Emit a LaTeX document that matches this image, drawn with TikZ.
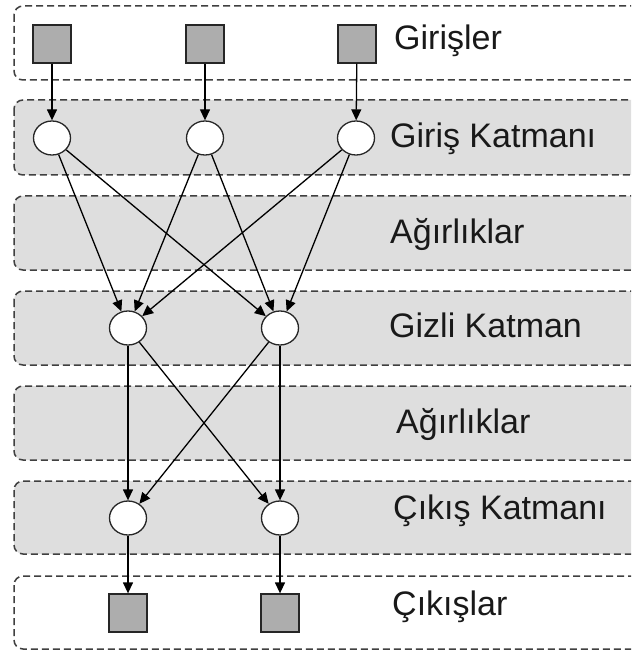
\documentclass[tikz,border=0pt]{standalone}
\usepackage{fontspec}
\setmainfont{Liberation Sans}
\usepackage{tikz}
\usetikzlibrary{shapes.geometric, arrows.meta, positioning}
\tikzstyle{arrow} = [line width=1.3pt,-{Triangle[length=11pt,width=10pt]}]

\begin{document}
\begin{tikzpicture}[
    x=1pt, y=-1pt,
    band/.style={draw=black!75, line width=1.5pt, dash pattern=on 7pt off 4pt, rounded corners=9pt, fill=black!13},
    openband/.style={band, fill=white},
    unit/.style={rectangle, draw=black!85, line width=1.3pt, fill=black!32, minimum size=38pt, inner sep=0pt},
    neuron/.style={ellipse, draw=black!85, line width=1.3pt, fill=white, minimum width=37pt, minimum height=34pt, inner sep=0pt},
    lbl/.style={anchor=base west, inner sep=0pt, font=\fontsize{34}{40}\selectfont, text=black!90}
]
    \useasboundingbox (0,0) rectangle (631,652);
    \clip (0,0) rectangle (631,652);
    \fill[white] (0,0) rectangle (631,652);

    % layer bands
    \draw[openband] (14,6) rectangle (680,80);
    \draw[band] (14,100) rectangle (680,175);
    \draw[band] (14,196) rectangle (680,270);
    \draw[band] (14,291) rectangle (680,365);
    \draw[band] (14,386) rectangle (680,460);
    \draw[band] (14,481) rectangle (680,554);
    \draw[openband] (14,576) rectangle (680,649);

    % labels
    \node[lbl] (tin) at (394,50) {Girişler};
    \node[lbl] (til) at (390,148) {Giriş Katmanı};
    \node[lbl] (tw1) at (390,243) {Ağırlıklar};
    \node[lbl] (thl) at (389,337) {Gizli Katman};
    \node[lbl] (tw2) at (396,433) {Ağırlıklar};
    \node[lbl] (tol) at (393,519) {Çıkış Katmanı};
    \node[lbl] (tout) at (392,615) {Çıkışlar};

    % nodes
    \node[unit] (in1) at (52,44) {};
    \node[unit] (in2) at (205,44) {};
    \node[unit] (in3) at (357,44) {};
    \node[neuron] (il1) at (52,138) {};
    \node[neuron] (il2) at (205,138) {};
    \node[neuron] (il3) at (356,138) {};
    \node[neuron] (hl1) at (128,328) {};
    \node[neuron] (hl2) at (280,328) {};
    \node[neuron] (ol1) at (128,518) {};
    \node[neuron] (ol2) at (280,518) {};
    \node[unit] (out1) at (128,613) {};
    \node[unit] (out2) at (280,613) {};

    % connections
    \draw[arrow] (in1) -- (il1);
    \draw[arrow] (in2) -- (il2);
    \draw[arrow] (in3) -- (il3);
    \foreach \i in {1,2,3}
        \foreach \j in {1,2}
            \draw[arrow] (il\i) -- (hl\j);
    \foreach \i in {1,2}
        \foreach \j in {1,2}
            \draw[arrow] (hl\i) -- (ol\j);
    \draw[arrow] (ol1) -- (out1);
    \draw[arrow] (ol2) -- (out2);
\end{tikzpicture}
\end{document}
